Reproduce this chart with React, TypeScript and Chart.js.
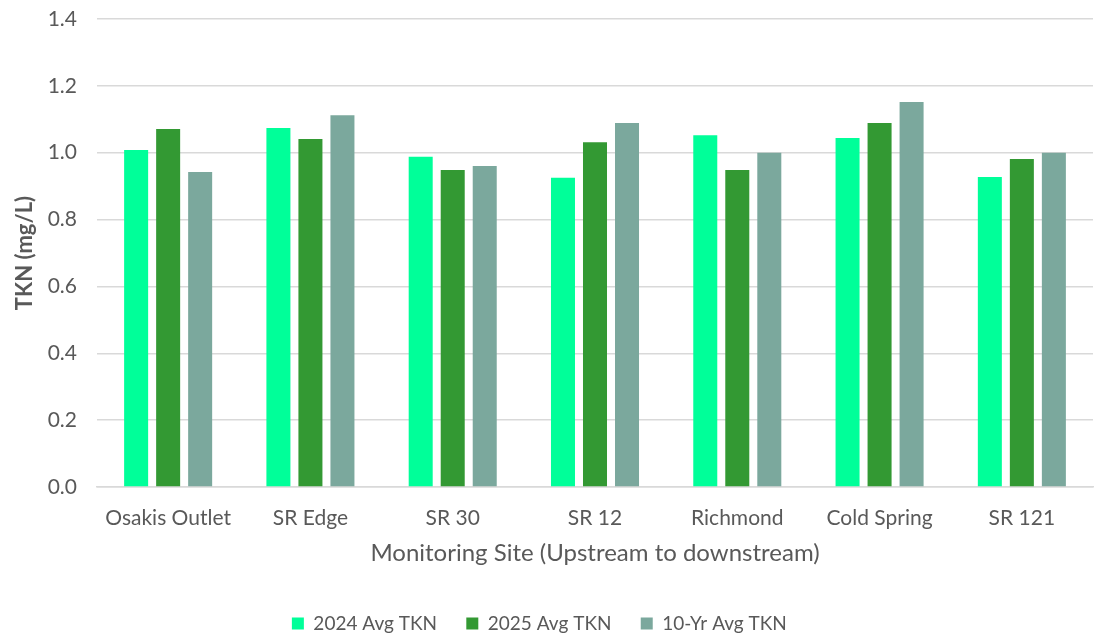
import React, { useEffect, useRef } from "react";
import { Chart, registerables } from "chart.js";

Chart.register(...registerables);

const categories = ["Osakis Outlet", "SR Edge", "SR 30", "SR 12", "Richmond", "Cold Spring", "SR 121"];
const avg2024 = [1.008, 1.074, 0.988, 0.925, 1.052, 1.044, 0.927];
const avg2025 = [1.071, 1.041, 0.948, 1.031, 0.948, 1.089, 0.981];
const avg10yr = [0.942, 1.112, 0.960, 1.089, 1.000, 1.152, 1.000];
const seriesNames = ["2024 Avg TKN", "2025 Avg TKN", "10-Yr Avg TKN"];
const seriesColors = ["#00FF99", "#339933", "#7BA89D"];

const FONT = "Lato, 'Open Sans', sans-serif";

export default function App() {
  const ref = useRef<HTMLCanvasElement | null>(null);
  useEffect(() => {
    if (!ref.current) return;
    const values = [avg2024, avg2025, avg10yr];
    const chart = new Chart(ref.current, {
      type: "bar",
      data: {
        labels: categories,
        datasets: values.map((v, i) => ({
          label: seriesNames[i],
          data: v,
          backgroundColor: seriesColors[i],
          borderWidth: 0,
          categoryPercentage: 0.675,
          barPercentage: 0.75,
        })),
      },
      options: {
        animation: false,
        responsive: true,
        maintainAspectRatio: false,
        layout: { padding: { left: 0, right: 1, top: 19, bottom: -6 } },
        plugins: {
          legend: {
            position: "bottom",
            labels: {
              boxWidth: 12,
              boxHeight: 12,
              padding: 15,
              color: "#595959",
              font: { family: FONT, size: 19 },
              generateLabels: (c: any) => {
                const items = Chart.defaults.plugins.legend.labels.generateLabels(c);
                return items.map((it: any) => ({ ...it, text: it.text + "\u2003" }));
              },
            },
          },
          tooltip: { enabled: false },
        },
        scales: {
          x: {
            grid: { display: false, drawTicks: false },
            border: { color: "#d9d9d9", width: 1.5 },
            ticks: { color: "#595959", font: { family: FONT, size: 21 }, padding: 19 },
            title: {
              display: true,
              text: "Monitoring Site (Upstream to downstream)",
              color: "#595959",
              font: { family: FONT, size: 24 },
              padding: { top: 9, bottom: 31 },
            },
            afterFit: (s: any) => {
              s.paddingLeft = 0;
              s.paddingRight = 0;
              s.height = 112;
            },
          },
          y: {
            min: 0,
            max: 1.4,
            ticks: {
              stepSize: 0.2,
              color: "#595959",
              font: { family: FONT, size: 21 },
              padding: 20,
              callback: (v: any) => Number(v).toFixed(1),
            },
            grid: { color: "#d9d9d9", lineWidth: 1.5, drawTicks: false },
            border: { display: false },
            title: {
              display: true,
              text: "TKN (mg/L)",
              color: "#595959",
              font: { family: FONT, size: 22, weight: "bold" },
              padding: { top: 12, bottom: 0 },
            },
            afterFit: (s: any) => {
              s.paddingTop = 0;
              s.paddingBottom = 0;
              s.width = 97;
            },
          },
        },
      },
    });
    return () => chart.destroy();
  }, []);
  return (
    <div style={{ position: "absolute", left: 0, top: 0, width: 1094, height: 637, background: "#fff" }}>
      <canvas ref={ref} />
    </div>
  );
}
